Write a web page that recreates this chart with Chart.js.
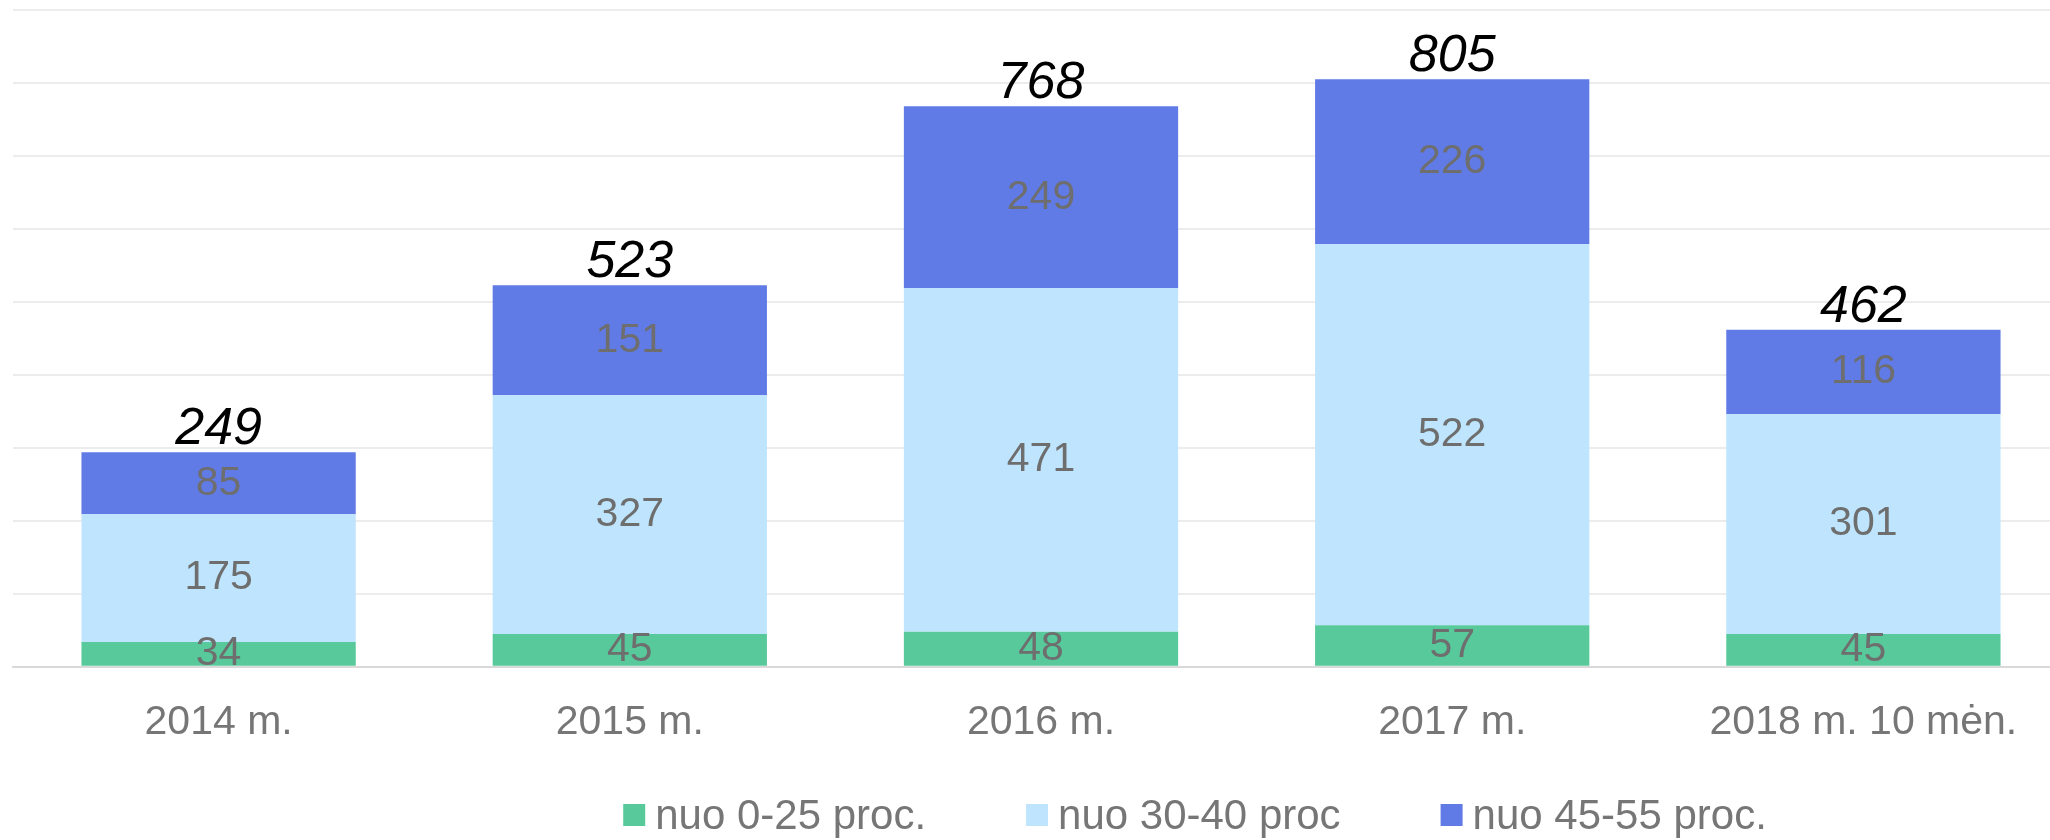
<!DOCTYPE html>
<html>
<head>
<meta charset="utf-8">
<script src="https://cdn.jsdelivr.net/npm/chart.js@4/dist/chart.umd.min.js"></script>
<style>
    html, body { margin: 0; padding: 0; background: #fff; overflow: hidden; }
    #wrap { width: 2069px; height: 840px; position: relative; }
</style>
</head>
<body>
<div id="wrap"><canvas id="js--chart"></canvas></div>
<script>
const years = ["2014 m.", "2015 m.", "2016 m.", "2017 m.", "2018 m. 10 mėn."];
const low = [34, 45, 48, 57, 45];
const mid = [175, 327, 471, 522, 301];
const high = [85, 151, 249, 226, 116];
const totals = [249, 523, 768, 805, 462];
const seriesNames = ["nuo 0-25 proc.", "nuo 30-40 proc", "nuo 45-55 proc."];

const grey = "#767676";
const font = "'Liberation Sans', Arial, sans-serif";

// labels in the middle of each piece + the italic total on top
const labelPlugin = {
    id: "barLabels",
    afterDatasetsDraw(chart) {
        const ctx = chart.ctx;
        ctx.save();
        ctx.textAlign = "center";
        ctx.textBaseline = "middle";
        ctx.font = "41px " + font;
        ctx.fillStyle = "#6e6e6e";
        chart.data.datasets.forEach(function(ds, i){
            chart.getDatasetMeta(i).data.forEach(function(bar, j){
                let mid = (bar.y + bar.base) / 2;
                ctx.fillText(ds.data[j], bar.x, mid);
            });
        });
        const topMeta = chart.getDatasetMeta(chart.data.datasets.length - 1);
        ctx.font = "italic 52px " + font;
        ctx.fillStyle = "#000";
        ctx.textBaseline = "alphabetic";
        topMeta.data.forEach(function(bar, j){
            ctx.fillText(totals[j], bar.x, bar.y - 8);
        });
        ctx.restore();
    }
};

// legend drawn by hand, the built in one puts too much space round the boxes
const legendPlugin = {
    id: "bottomLegend",
    afterDraw(chart) {
        const ctx = chart.ctx;
        const centerX = 1195, centerY = 815, box = 22, gapText = 10, gapItem = 100;
        ctx.save();
        ctx.font = "42px " + font;
        ctx.textBaseline = "middle";
        ctx.textAlign = "left";
        let widths = chart.data.datasets.map(function(ds){
            return box + gapText + ctx.measureText(ds.label).width;
        });
        let total = widths.reduce(function(a, b){ return a + b; }, 0) + gapItem * (widths.length - 1);
        let x = centerX - total / 2;
        chart.data.datasets.forEach(function(ds, i){
            ctx.fillStyle = ds.backgroundColor;
            ctx.fillRect(x, centerY - box / 2, box, box);
            ctx.fillStyle = grey;
            ctx.fillText(ds.label, x + box + gapText, centerY + 2);
            x += widths[i] + gapItem;
        });
        ctx.restore();
    }
};

const data = {
    labels: years,
    datasets: [
        { label: seriesNames[0], data: low, backgroundColor: "#57c99b" },
        { label: seriesNames[1], data: mid, backgroundColor: "#bee5fd" },
        { label: seriesNames[2], data: high, backgroundColor: "#617be6" }
    ]
};

const config = {
    type: "bar",
    data: data,
    plugins: [labelPlugin, legendPlugin],
    options: {
        responsive: true,
        maintainAspectRatio: false,
        animation: false,
        layout: { padding: { left: 13, right: 0, top: 10, bottom: 70 } },
        datasets: { bar: { categoryPercentage: 1, barPercentage: 0.667 } },
        scales: {
            x: {
                stacked: true,
                grid: { display: false },
                border: { color: "#d9d9d9", width: 2 },
                ticks: { color: grey, font: { family: font, size: 41 }, padding: 23 }
            },
            y: {
                stacked: true,
                min: 0,
                max: 900,
                ticks: { display: false, stepSize: 100 },
                border: { display: false },
                grid: { color: "#ececec", lineWidth: 2, drawTicks: false }
            }
        },
        plugins: {
            tooltip: { enabled: false },
            legend: { display: false }
        }
    }
};

const chart = new Chart(document.getElementById("js--chart"), config);
</script>
</body>
</html>
